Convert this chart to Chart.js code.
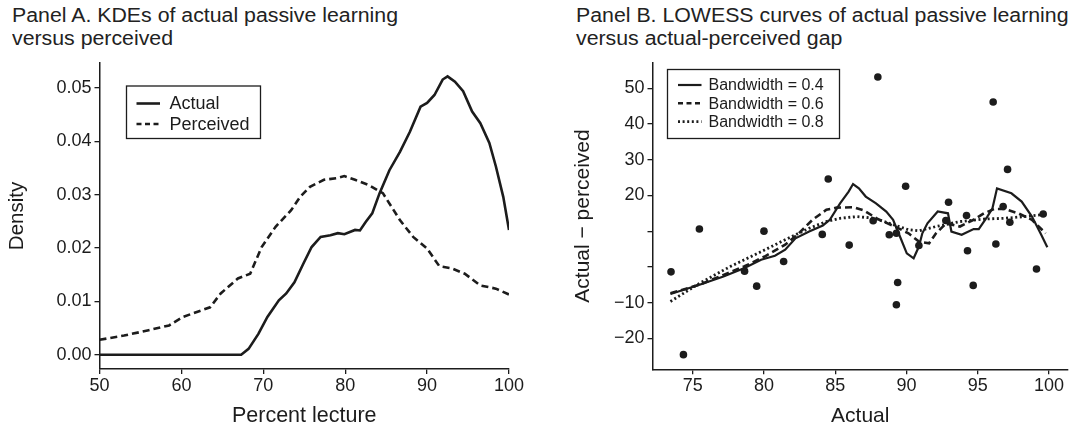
<!DOCTYPE html>
<html>
<head>
<meta charset="utf-8">
<script src="https://cdn.jsdelivr.net/npm/chart.js@4.4.1/dist/chart.umd.min.js"></script>
<style>
html,body{margin:0;padding:0;background:#fff;}
#wrap{position:relative;width:1073px;height:429px;overflow:hidden;font-family:"Liberation Sans",Arial,sans-serif;color:#222;}
.ttl{position:absolute;font-size:20px;line-height:23px;white-space:nowrap;color:#222;transform:scaleX(1.065);transform-origin:0 0;}
canvas{position:absolute;top:0;}
#cA{left:0;}
#cB{left:540px;}
</style>
</head>
<body>
<div id="wrap">
  <div class="ttl" style="left:12px;top:4px">Panel A. KDEs of actual passive learning<br>versus perceived</div>
  <div class="ttl" style="left:576px;top:4px">Panel B. LOWESS curves of actual passive learning<br>versus actual-perceived gap</div>
  <canvas id="cA" width="540" height="429"></canvas>
  <canvas id="cB" width="533" height="429"></canvas>
</div>
<script>
// ---------- Panel A data (kernel densities) ----------
const kdeActualX = [50, 67.3, 68.2, 69.4, 70.5, 71.9, 72.8, 73.8, 74.9, 75.9, 77.0, 78.2, 79.1, 79.9, 81.2, 81.8, 82.5, 83.3, 84.2, 85.4, 86.7, 87.9, 89.2, 90.0, 90.9, 91.9, 92.5, 93.4, 94.4, 95.5, 96.5, 97.6, 98.4, 99.3, 100];
const kdeActualY = [0, 0, 0.0011, 0.0039, 0.0071, 0.0102, 0.0115, 0.0136, 0.0171, 0.0202, 0.0221, 0.0224, 0.0228, 0.0226, 0.0234, 0.0233, 0.0249, 0.0265, 0.0303, 0.0346, 0.0381, 0.0418, 0.0465, 0.0472, 0.0487, 0.0516, 0.0522, 0.0512, 0.0494, 0.0456, 0.0434, 0.0397, 0.0353, 0.0296, 0.0234];
const kdePerceivedX = [50, 53.0, 56.0, 58.5, 60.2, 63.5, 64.8, 66.9, 68.4, 69.8, 71.5, 73.4, 74.5, 75.7, 77.4, 78.9, 79.9, 81.2, 82.9, 84.6, 86.7, 88.3, 90.0, 91.5, 93.0, 94.6, 96.5, 98.4, 100];
const kdePerceivedY = [0.0028, 0.0036, 0.0046, 0.0055, 0.0071, 0.0089, 0.0115, 0.0143, 0.0152, 0.0202, 0.0240, 0.0271, 0.0296, 0.0315, 0.0328, 0.0331, 0.0335, 0.0328, 0.0318, 0.0303, 0.0252, 0.0221, 0.0199, 0.0166, 0.0162, 0.0152, 0.0130, 0.0124, 0.0113];
const xTicksA = [50, 60, 70, 80, 90, 100];
const yTicksA = [0, 0.01, 0.02, 0.03, 0.04, 0.05];

// ---------- Panel B data (scatter + LOWESS) ----------
const gapActual = [73.48, 74.35, 75.47, 78.64, 79.49, 80.0, 81.38, 84.09, 84.51, 85.98, 87.66, 87.99, 88.79, 89.29, 89.29, 89.38, 89.94, 90.87, 92.76, 92.95, 94.21, 94.28, 94.68, 96.08, 96.27, 96.78, 97.09, 97.25, 99.12, 99.59];
const gapValue  = [-1.4, -24.6, 10.6, -1.2, -5.4, 10.0, 1.5, 9.1, 24.6, 6.1, 12.9, 53.2, 9.0, 9.4, -10.6, -4.4, 22.6, 6.0, 13.0, 18.1, 14.4, 4.5, -5.2, 46.2, 6.4, 16.9, 27.3, 12.5, -0.6, 14.8];
const bw04X = [73.44, 75.48, 77.16, 78.6, 79.8, 80.77, 81.49, 82.21, 83.17, 84.13, 84.62, 85.34, 85.94, 86.25, 86.66, 87.14, 87.86, 88.58, 89.06, 89.54, 90.02, 90.5, 90.87, 91.11, 91.47, 92.19, 92.91, 93.15, 93.87, 94.71, 95.07, 95.67, 96.03, 96.35, 97.36, 98.08, 98.8, 99.4, 99.88];
const bw04Y = [-7.6, -5.0, -2.7, -0.4, 2.0, 3.1, 4.8, 8.0, 9.9, 11.6, 13.2, 17.8, 21.1, 23.2, 22.0, 19.7, 17.8, 15.5, 13.2, 8.5, 3.8, 2.4, 5.7, 9.4, 12.2, 15.5, 15.0, 9.9, 9.0, 10.6, 10.6, 14.1, 16.4, 22.0, 20.6, 18.3, 14.1, 9.4, 5.5];
const bw06X = [73.44, 75.48, 78.6, 80.05, 81.49, 82.45, 83.41, 84.38, 85.1, 86.3, 87.02, 87.98, 89.18, 90.14, 90.87, 91.59, 92.07, 92.79, 93.75, 94.71, 95.43, 96.15, 96.88, 97.84, 98.8, 99.76];
const bw06Y = [-7.4, -5.0, 0.1, 2.9, 6.2, 9.4, 13.2, 16.0, 16.6, 16.7, 15.8, 13.4, 11.3, 9.4, 7.1, 6.6, 9.4, 12.2, 11.3, 13.2, 15.0, 16.2, 16.2, 15.0, 13.2, 9.4];
const bw08X = [73.44, 75.48, 77.64, 79.57, 81.49, 83.17, 84.38, 85.34, 86.54, 87.74, 88.94, 90.14, 90.87, 92.07, 93.75, 95.43, 96.88, 98.32, 99.52];
const bw08Y = [-9.7, -4.6, 0.1, 3.8, 7.6, 10.8, 12.7, 13.6, 14.1, 13.6, 12.0, 10.4, 10.1, 11.3, 12.7, 13.4, 13.6, 14.1, 14.6];
const xTicksB = [75, 80, 85, 90, 95, 100];
const yTicksB = [-20, -10, 0, 10, 20, 30, 40, 50];
const yTickLabelsB = ['\u221220', '\u221210', '', '', '20', '30', '40', '50'];

// ---------- helpers ----------
const INK = '#1c1c1c';
const FONT = '"Liberation Sans", Arial, sans-serif';
const pts = (xs, ys) => xs.map((x, i) => ({x: x, y: ys[i]}));

const boxLegend = {
  id: 'boxLegend',
  afterDatasetsDraw(chart, args, o) {
    if (!o || !o.w) return;
    const ctx = chart.ctx;
    ctx.save();
    ctx.fillStyle = '#fff';
    ctx.fillRect(o.x, o.y, o.w, o.h);
    ctx.strokeStyle = INK; ctx.lineWidth = 1.3; ctx.setLineDash([]);
    ctx.strokeRect(o.x, o.y, o.w, o.h);
    ctx.font = o.font;
    ctx.textBaseline = 'middle';
    let i = 0;
    chart.data.datasets.forEach(ds => {
      if (!ds.showKey) return;
      const yy = o.rowY[i++];
      ctx.beginPath();
      ctx.setLineDash(ds.keyDash || ds.borderDash || []);
      ctx.lineWidth = ds.borderWidth;
      ctx.strokeStyle = ds.borderColor;
      ctx.moveTo(o.lineX0, yy); ctx.lineTo(o.lineX1, yy); ctx.stroke();
      ctx.setLineDash([]);
      ctx.fillStyle = INK;
      ctx.fillText(ds.label, o.textX, yy + 1);
    });
    ctx.restore();
  }
};

function axisCommon(extra) {
  return Object.assign({
    type: 'linear',
    grid: {drawOnChartArea: false, drawTicks: true, tickLength: 5, color: INK, lineWidth: 1.3},
    border: {display: true, color: INK, width: 1.5},
  }, extra);
}

// ---------- Panel A ----------
new Chart(document.getElementById('cA'), {
  type: 'line',
  plugins: [boxLegend],
  data: {
    datasets: [
      {label: 'Actual', data: pts(kdeActualX, kdeActualY), borderColor: INK, borderWidth: 2.6, pointRadius: 0, tension: 0, fill: false, showKey: true},
      {label: 'Perceived', data: pts(kdePerceivedX, kdePerceivedY), borderColor: INK, borderWidth: 2.6, borderDash: [7, 4], keyDash: [5, 3.5], pointRadius: 0, tension: 0, fill: false, showKey: true}
    ]
  },
  options: {
    responsive: false, animation: false, events: [],
    layout: {padding: {left: 0, top: 63, right: 31, bottom: 0}},
    plugins: {
      legend: {display: false}, tooltip: {enabled: false},
      boxLegend: {x: 126.5, y: 86, w: 134, h: 52.5, rowY: [103.5, 124], lineX0: 136.5, lineX1: 160, textX: 169.5, font: '18px ' + FONT}
    },
    scales: {
      x: axisCommon({
        min: 50, max: 100,
        afterBuildTicks: s => { s.ticks = xTicksA.map(v => ({value: v})); },
        afterFit: s => { s.height = 60; },
        ticks: {color: INK, font: {size: 18, family: FONT}, padding: 1, maxRotation: 0, autoSkip: false},
        title: {display: true, text: 'Percent lecture', color: INK, font: {size: 21.5, family: FONT}, padding: {top: 0, bottom: 0}}
      }),
      y: axisCommon({
        min: -0.00267, max: 0.0547,
        afterBuildTicks: s => { s.ticks = yTicksA.map(v => ({value: v})); },
        afterFit: s => { s.width = 99.5; },
        ticks: {color: INK, font: {size: 18, family: FONT}, padding: 3, autoSkip: false, callback: v => v.toFixed(2)},
        title: {display: true, text: 'Density', color: INK, font: {size: 20.5, family: FONT}, padding: {top: 5, bottom: 0}}
      })
    }
  }
});

// ---------- Panel B ----------
new Chart(document.getElementById('cB'), {
  type: 'scatter',
  plugins: [boxLegend],
  data: {
    datasets: [
      {type: 'scatter', label: 'Observations', data: pts(gapActual, gapValue), backgroundColor: INK, borderWidth: 0, pointRadius: 3.8, showKey: false, order: 0},
      {type: 'line', label: 'Bandwidth = 0.4', data: pts(bw04X, bw04Y), borderColor: INK, borderWidth: 2.2, pointRadius: 0, tension: 0, fill: false, showKey: true, order: 1},
      {type: 'line', label: 'Bandwidth = 0.6', data: pts(bw06X, bw06Y), borderColor: INK, borderWidth: 2.6, borderDash: [7, 4], keyDash: [5, 3.5], pointRadius: 0, tension: 0, fill: false, showKey: true, order: 2},
      {type: 'line', label: 'Bandwidth = 0.8', data: pts(bw08X, bw08Y), borderColor: INK, borderWidth: 2.8, borderDash: [2, 2.6], pointRadius: 0, tension: 0, fill: false, showKey: true, order: 3}
    ]
  },
  options: {
    responsive: false, animation: false, events: [],
    layout: {padding: {left: 0, top: 62.7, right: 5, bottom: 0}},
    plugins: {
      legend: {display: false}, tooltip: {enabled: false},
      boxLegend: {x: 127.5, y: 69.5, w: 172, h: 69, rowY: [85, 103.3, 121.7], lineX0: 138, lineX1: 161.5, textX: 168.5, font: '16px ' + FONT}
    },
    scales: {
      x: axisCommon({
        min: 72.18, max: 101.33,
        afterBuildTicks: s => { s.ticks = xTicksB.map(v => ({value: v})); },
        afterFit: s => { s.height = 59.7; },
        ticks: {color: INK, font: {size: 18, family: FONT}, padding: 1, maxRotation: 0, autoSkip: false},
        title: {display: true, text: 'Actual', color: INK, font: {size: 21, family: FONT}, padding: {top: 0, bottom: 0}}
      }),
      y: axisCommon({
        min: -28.7, max: 57.2,
        afterBuildTicks: s => { s.ticks = yTicksB.map(v => ({value: v})); },
        afterFit: s => { s.width = 112.5; },
        ticks: {color: INK, font: {size: 18, family: FONT}, padding: 3, autoSkip: false,
                callback: (v) => { const k = yTicksB.indexOf(v); return k >= 0 ? yTickLabelsB[k] : ''; }},
        title: {display: true, text: 'Actual \u2212 perceived', color: INK, font: {size: 21, family: FONT}, padding: {top: 31, bottom: 0}}
      })
    }
  }
});
</script>
</body>
</html>
